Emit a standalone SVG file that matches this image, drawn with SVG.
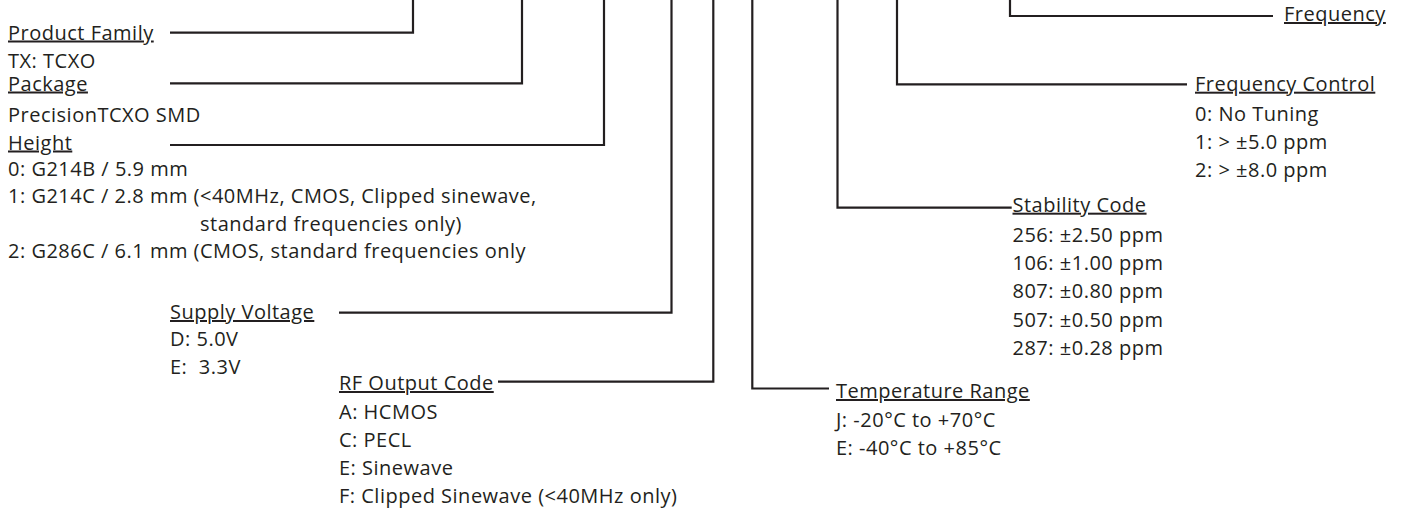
<svg xmlns="http://www.w3.org/2000/svg" width="1406" height="513" viewBox="0 0 1406 513">
<style>
text{font-family:"Open Sans","Liberation Sans",sans-serif;font-size:20px;letter-spacing:0.5px;fill:#231f20}
.h{text-decoration:underline}
.c{fill:none;stroke:#231f20;stroke-width:2.2}
</style>
<rect width="1406" height="513" fill="#fff"/>
<g id="connectors">
<path class="c" d="M170,32.7H413V0"/>
<path class="c" d="M170,83.3H522V0"/>
<path class="c" d="M170,145H604V0"/>
<path class="c" d="M339,312.7H671.5V0"/>
<path class="c" d="M498,381.7H713.3V0"/>
<path class="c" d="M829,388.5H752.3V0"/>
<path class="c" d="M1011.7,207.7H837.5V0"/>
<path class="c" d="M1187,84.3H897V0"/>
<path class="c" d="M1273,16H1010V0"/>
</g>
<g id="product-family">
<text x="8" y="39.5" class="h">Product Family</text>
<text x="8" y="67.5">TX: TCXO</text>
</g>
<g id="package">
<text x="8" y="90.5" class="h">Package</text>
<text x="8" y="122">PrecisionTCXO SMD</text>
</g>
<g id="height">
<text x="8" y="149.5" class="h">Height</text>
<text x="8" y="175.5">0: G214B / 5.9 mm</text>
<text x="8" y="203">1: G214C / 2.8 mm (&lt;40MHz, CMOS, Clipped sinewave,</text>
<text x="200" y="230.5">standard frequencies only)</text>
<text x="8" y="258">2: G286C / 6.1 mm (CMOS, standard frequencies only</text>
</g>
<g id="supply-voltage">
<text x="170" y="319" class="h">Supply Voltage</text>
<text x="170" y="346">D: 5.0V</text>
<text x="170" y="373.5" xml:space="preserve">E:  3.3V</text>
</g>
<g id="rf-output">
<text x="339" y="390" class="h">RF Output Code</text>
<text x="339" y="418.5">A: HCMOS</text>
<text x="339" y="447">C: PECL</text>
<text x="339" y="475">E: Sinewave</text>
<text x="339" y="503">F: Clipped Sinewave (&lt;40MHz only)</text>
</g>
<g id="temperature-range">
<text x="836" y="398" class="h">Temperature Range</text>
<text x="836" y="426.5">J: -20°C to +70°C</text>
<text x="836" y="455">E: -40°C to +85°C</text>
</g>
<g id="stability-code">
<text x="1012.5" y="211.7" class="h">Stability Code</text>
<text x="1012.5" y="241.7">256: ±2.50 ppm</text>
<text x="1012.5" y="270">106: ±1.00 ppm</text>
<text x="1012.5" y="298.3">807: ±0.80 ppm</text>
<text x="1012.5" y="326.7">507: ±0.50 ppm</text>
<text x="1012.5" y="355">287: ±0.28 ppm</text>
</g>
<g id="frequency-control">
<text x="1195" y="90.7" class="h">Frequency Control</text>
<text x="1195" y="120.5">0: No Tuning</text>
<text x="1195" y="149">1: &gt; ±5.0 ppm</text>
<text x="1195" y="177.3">2: &gt; ±8.0 ppm</text>
</g>
<g id="frequency">
<text x="1284" y="21" class="h">Frequency</text>
</g>
</svg>
